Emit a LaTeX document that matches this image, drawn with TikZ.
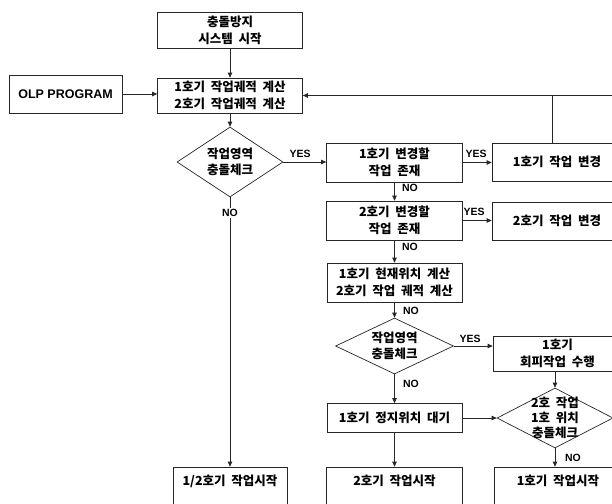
\documentclass[tikz,border=0pt]{standalone}
\usepackage{fontspec}
\setmainfont{Noto Sans CJK KR}[WordSpace=2]
\newfontfamily\lat{Liberation Sans}
\usetikzlibrary{shapes.geometric,arrows.meta}
\begin{document}
\begin{tikzpicture}[x=1pt,y=-1pt,
 box/.style={draw=black!85, line width=0.7pt, inner sep=0pt, align=center, font=\fontsize{12.5}{17}\selectfont\bfseries},
 dia/.style={draw=black!85, line width=0.7pt, diamond, inner sep=0pt},
 txt/.style={align=center, inner sep=0pt, font=\fontsize{12.5}{16.5}\selectfont\bfseries},
 lab/.style={font=\lat\fontsize{10.5}{12}\selectfont\bfseries, inner sep=1pt},
 arr/.style={draw=black!85, line width=0.7pt, -{Triangle[length=5pt,width=4.5pt]}},
 ln/.style={draw=black!85, line width=0.7pt}]
\clip (0,0) rectangle (612,503);
\fill[white] (0,0) rectangle (612,503);

% boxes
\node[box, minimum width=145pt, minimum height=36pt] (start) at (230,30) {충돌방지\\시스템 시작};
\node[box, minimum width=145pt, minimum height=35pt] (calc) at (230,95.5) {1호기 작업궤적 계산\\2호기 작업궤적 계산};
\node[box, minimum width=113pt, minimum height=38pt, font=\lat\fontsize{12.5}{14}\selectfont\bfseries] (olp) at (65.5,94) {OLP PROGRAM};
\node[dia, minimum width=106pt, minimum height=70pt] (d1) at (230,162) {};
\node[txt] (d1t) at (d1) {작업영역\\충돌체크};
\node[box, minimum width=136pt, minimum height=39pt] (ch1) at (394.5,162.5) {1호기 변경할\\작업 존재};
\node[box, minimum width=130pt, minimum height=38pt] (ch1w) at (557,162) {1호기 작업 변경};
\node[box, minimum width=136pt, minimum height=39pt] (ch2) at (394.5,220.5) {2호기 변경할\\작업 존재};
\node[box, minimum width=130pt, minimum height=38pt] (ch2w) at (557,221) {2호기 작업 변경};
\node[box, minimum width=135pt, minimum height=39pt] (pos) at (394.5,282.5) {1호기 현재위치 계산\\2호기 작업 궤적 계산};
\node[dia, minimum width=118pt, minimum height=56pt] (d2) at (394.5,346) {};
\node[txt] (d2t) at (d2) {작업영역\\충돌체크};
\node[box, minimum width=129pt, minimum height=35pt] (avoid) at (557.5,353.5) {1호기\\회피작업 수행};
\node[box, minimum width=135pt, minimum height=29pt] (wait) at (394.5,418) {1호기 정지위치 대기};
\node[dia, minimum width=116pt, minimum height=60pt] (d3) at (555,418) {};
\node[txt, font=\fontsize{12.5}{15}\selectfont\bfseries] (d3t) at (d3) {2호 작업\\1호 위치\\충돌체크};
\node[box, minimum width=114pt, minimum height=40pt, text depth=14pt] (b1) at (230,487) {1/2호기 작업시작};
\node[box, minimum width=136pt, minimum height=40pt, text depth=14pt] (b2) at (394.5,487) {2호기 작업시작};
\node[box, minimum width=128pt, minimum height=40pt, text depth=14pt] (b3) at (558,487) {1호기 작업시작};

\coordinate (edge) at (616,95.5);
\coordinate (fb) at (552,95.5);

% connectors
\draw[arr] (start) -- (calc);
\draw[arr] (olp.east) -- (olp.east -| calc.west);
\draw[arr] (edge) -- (calc.east);
\draw[ln] (ch1w.north -| fb) -- (fb);
\draw[arr] (calc) -- (d1.north);
\draw[arr] (d1.east) -- (ch1.west |- d1.east);
\draw[arr] (d1.south) -- (b1.north);
\draw[arr] (ch1.east) -- (ch1w.west |- ch1.east);
\draw[arr] (ch1) -- (ch2);
\draw[arr] (ch2.east) -- (ch2w.west |- ch2.east);
\draw[arr] (ch2) -- (pos);
\draw[arr] (pos) -- (d2.north);
\draw[arr] (d2.east) -- (avoid.west |- d2.east);
\draw[arr] (d2.south) -- (wait.north);
\draw[arr] (wait) -- (b2);
\draw[arr] (d3.north |- avoid.south) -- (d3.north);
\draw[arr] (wait.east) -- (d3.west);
\draw[arr] (d3.south) -- (d3.south |- b3.north);

% labels
\node[lab] (y1) at (300,154) {YES};
\node[lab, fill=white] (n1) at (230,213) {NO};
\node[lab] (y2) at (476,154) {YES};
\node[lab] (n2) at (410,188) {NO};
\node[lab] (y3) at (474,212) {YES};
\node[lab] (n3) at (410,247) {NO};
\node[lab] (n4) at (411,311) {NO};
\node[lab] (y4) at (470,339) {YES};
\node[lab] (n5) at (411,384) {NO};
\node[lab] (n6) at (573,458) {NO};
\end{tikzpicture}
\end{document}
